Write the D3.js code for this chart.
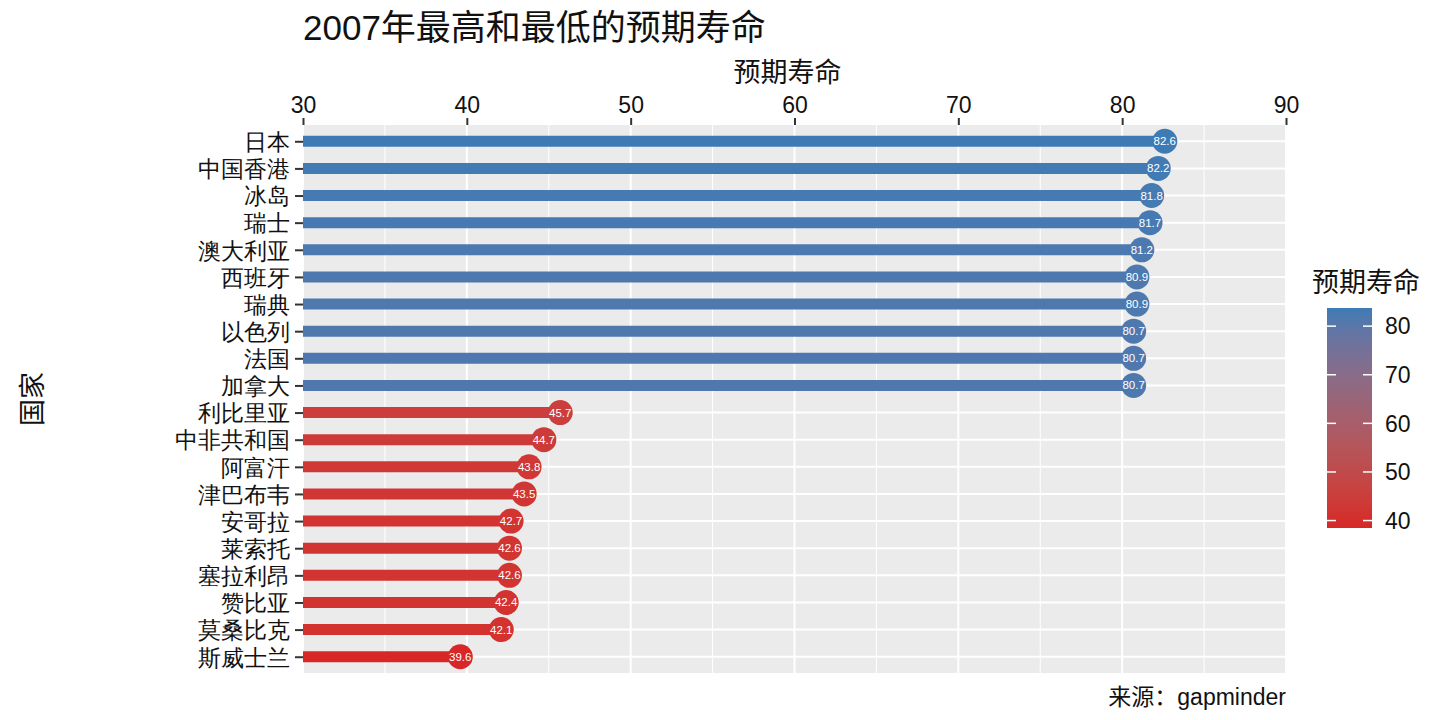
<!DOCTYPE html>
<html>
<head>
<meta charset="utf-8">
<script src="https://cdn.jsdelivr.net/npm/d3@7"></script>
<style>
  body { margin: 0; background: #fff; }
  svg { display: block; font-family: "Liberation Sans", "Noto Sans CJK SC", sans-serif; }
</style>
</head>
<body>
<div id="chart"></div>
<script>
// data
const countries = ["日本", "中国香港", "冰岛", "瑞士", "澳大利亚", "西班牙", "瑞典", "以色列", "法国", "加拿大",
  "利比里亚", "中非共和国", "阿富汗", "津巴布韦", "安哥拉", "莱索托", "塞拉利昂", "赞比亚", "莫桑比克", "斯威士兰"];
const lifeExp = [82.6, 82.2, 81.8, 81.7, 81.2, 80.9, 80.9, 80.7, 80.7, 80.7,
  45.7, 44.7, 43.8, 43.5, 42.7, 42.6, 42.6, 42.4, 42.1, 39.6];
const xTicks = [30, 40, 50, 60, 70, 80, 90];
const xMinor = [35, 45, 55, 65, 75, 85];
const legendTicks = [40, 50, 60, 70, 80];

function renderChart() {
    const width = 1440;
    const height = 720;
    const panel = { left: 303, right: 1286, top: 125, bottom: 673 };
    const textColor = "#111";

    const data = countries.map((c, i) => ({ country: c, value: lifeExp[i] }));

    const x = d3.scaleLinear()
        .domain([30, 90])
        .range([panel.left, panel.right]);

    const y = d3.scalePoint()
        .domain(countries)
        .range([panel.top, panel.bottom])
        .padding(0.6);

    const color = d3.scaleLinear()
        .domain(d3.extent(lifeExp))
        .range(["#d82727", "#3e7bb5"])
        .interpolate(d3.interpolateLab);

    const svg = d3.select("#chart").append("svg")
        .attr("width", width)
        .attr("height", height);

    // panel background + grid
    svg.append("rect")
        .attr("x", panel.left).attr("y", panel.top)
        .attr("width", panel.right - panel.left)
        .attr("height", panel.bottom - panel.top)
        .attr("fill", "#ebebeb");

    const grid = svg.append("g").attr("stroke", "#fff");
    grid.selectAll(".minor")
        .data(xMinor)
        .join("line")
        .attr("x1", d => x(d)).attr("x2", d => x(d))
        .attr("y1", panel.top).attr("y2", panel.bottom)
        .attr("stroke-width", 1);
    grid.selectAll(".major")
        .data(xTicks)
        .join("line")
        .attr("x1", d => x(d)).attr("x2", d => x(d))
        .attr("y1", panel.top).attr("y2", panel.bottom)
        .attr("stroke-width", 2);
    grid.selectAll(".row")
        .data(countries)
        .join("line")
        .attr("x1", panel.left).attr("x2", panel.right)
        .attr("y1", d => y(d)).attr("y2", d => y(d))
        .attr("stroke-width", 2);

    // lollipops
    svg.append("g")
        .selectAll("line")
        .data(data)
        .join("line")
        .attr("x1", x(30))
        .attr("x2", d => x(d.value))
        .attr("y1", d => y(d.country))
        .attr("y2", d => y(d.country))
        .attr("stroke", d => color(d.value))
        .attr("stroke-width", 11);

    svg.append("g")
        .selectAll("circle")
        .data(data)
        .join("circle")
        .attr("cx", d => x(d.value))
        .attr("cy", d => y(d.country))
        .attr("r", 12.5)
        .attr("fill", d => color(d.value));

    svg.append("g")
        .attr("text-anchor", "middle")
        .style("font-size", "11.5px")
        .attr("fill", "#fff")
        .selectAll("text")
        .data(data)
        .join("text")
        .attr("x", d => x(d.value))
        .attr("y", d => y(d.country))
        .attr("dy", "0.35em")
        .text(d => d.value.toFixed(1));

    // top axis
    const xAxis = svg.append("g")
        .attr("transform", `translate(0,${panel.top})`)
        .call(d3.axisTop(x).tickValues(xTicks).tickSize(7).tickPadding(5));
    xAxis.select(".domain").remove();
    xAxis.selectAll(".tick line").attr("stroke", "#333").attr("stroke-width", 2);
    xAxis.selectAll(".tick text")
        .attr("fill", textColor)
        .style("font-size", "23px")
        .style("font-family", "inherit");

    // left axis
    const yAxis = svg.append("g")
        .attr("transform", `translate(${panel.left},0)`)
        .call(d3.axisLeft(y).tickSize(8).tickPadding(5));
    yAxis.select(".domain").remove();
    yAxis.selectAll(".tick line").attr("stroke", "#333").attr("stroke-width", 2);
    yAxis.selectAll(".tick text")
        .attr("fill", textColor)
        .attr("dy", "0.36em")
        .style("font-size", "23px")
        .style("font-family", "inherit");

    // titles
    svg.append("text")
        .attr("x", panel.left)
        .attr("y", 40)
        .attr("fill", textColor)
        .style("font-size", "35px")
        .text("2007年最高和最低的预期寿命");

    svg.append("text")
        .attr("x", (panel.left + panel.right) / 2 - 7)
        .attr("y", 82)
        .attr("text-anchor", "middle")
        .attr("fill", textColor)
        .style("font-size", "27px")
        .text("预期寿命");

    svg.append("text")
        .attr("transform", `translate(42,${(panel.top + panel.bottom) / 2}) rotate(-90)`)
        .attr("text-anchor", "middle")
        .attr("fill", textColor)
        .style("font-size", "27px")
        .text("国家");

    svg.append("text")
        .attr("x", panel.right)
        .attr("y", 705)
        .attr("text-anchor", "end")
        .attr("fill", textColor)
        .style("font-size", "23px")
        .text("来源：gapminder");

    // colour legend
    const bar = { x: 1327, w: 45, top: 308, bottom: 528 };
    const inset = (bar.bottom - bar.top) * 0.025;
    const ly = d3.scaleLinear()
        .domain(d3.extent(lifeExp))
        .range([bar.bottom - inset, bar.top + inset]);

    const grad = svg.append("defs").append("linearGradient")
        .attr("id", "legendGrad")
        .attr("x1", 0).attr("y1", 1).attr("x2", 0).attr("y2", 0);
    d3.range(0, 1.0001, 0.1).forEach(t => {
        const v = color.domain()[0] + t * (color.domain()[1] - color.domain()[0]);
        grad.append("stop").attr("offset", t).attr("stop-color", color(v));
    });

    svg.append("text")
        .attr("x", 1312)
        .attr("y", 292)
        .attr("fill", textColor)
        .style("font-size", "27px")
        .text("预期寿命");

    svg.append("rect")
        .attr("x", bar.x).attr("y", bar.top)
        .attr("width", bar.w).attr("height", bar.bottom - bar.top)
        .attr("fill", "url(#legendGrad)");

    const lt = svg.append("g");
    lt.selectAll(".l")
        .data(legendTicks)
        .join("line")
        .attr("x1", bar.x).attr("x2", bar.x + 9)
        .attr("y1", d => ly(d)).attr("y2", d => ly(d))
        .attr("stroke", "#fff").attr("stroke-width", 1.5);
    lt.selectAll(".r")
        .data(legendTicks)
        .join("line")
        .attr("x1", bar.x + bar.w - 9).attr("x2", bar.x + bar.w)
        .attr("y1", d => ly(d)).attr("y2", d => ly(d))
        .attr("stroke", "#fff").attr("stroke-width", 1.5);
    lt.selectAll("text")
        .data(legendTicks)
        .join("text")
        .attr("x", 1385)
        .attr("y", d => ly(d))
        .attr("dy", "0.36em")
        .attr("fill", textColor)
        .style("font-size", "23px")
        .text(d => d);
}

renderChart();
</script>
</body>
</html>
